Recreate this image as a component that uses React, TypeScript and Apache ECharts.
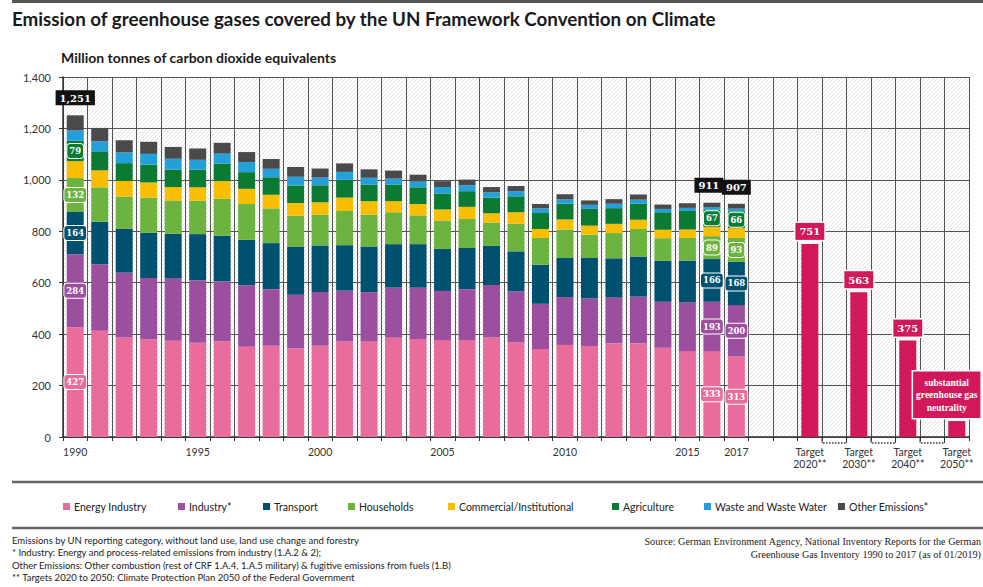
import React, { useEffect, useRef } from 'react';
import * as echarts from 'echarts';

const years = ['1990','1991','1992','1993','1994','1995','1996','1997','1998','1999','2000','2001','2002','2003','2004','2005','2006','2007','2008','2009','2010','2011','2012','2013','2014','2015','2016','2017'];

const targetCategories = ['Target\n2020**', 'Target\n2030**', 'Target\n2040**', 'Target\n2050**'];
const targetValues = [751, 563, 375, 62];
const targetLabels = ['751', '563', '375', 'substantial\ngreenhouse gas\nneutrality'];

const categories = [...years, '', '', targetCategories[0], '', targetCategories[1], '', targetCategories[2], '', targetCategories[3]];
const shownAxisLabels = ['1990', '1995', '2000', '2005', '2010', '2015', '2017', ...targetCategories];

const energy = [427, 413, 387, 380, 374, 367, 372, 351, 355, 345, 355, 371, 371, 386, 381, 377, 377, 387, 368, 342, 358, 354, 364, 364, 347, 334, 333, 313];
const industry = [284, 259, 252, 238, 243, 243, 233, 239, 220, 208, 209, 198, 192, 195, 200, 191, 198, 204, 198, 176, 186, 185, 178, 182, 179, 189, 193, 200];
const transport = [164, 165, 170, 176, 173, 179, 178, 177, 179, 186, 181, 177, 178, 169, 169, 163, 160, 152, 156, 152, 152, 157, 153, 156, 159, 163, 166, 168];
const households = [132, 134, 126, 137, 130, 130, 144, 139, 135, 122, 120, 133, 124, 124, 112, 111, 113, 91, 108, 104, 111, 91, 98, 107, 88, 88, 89, 93];
const commercial = [66, 66, 61, 59, 52, 52, 68, 59, 53, 49, 48, 52, 52, 43, 44, 43, 47, 36, 44, 35, 39, 35, 36, 36, 33, 33, 36, 38];
const agriculture = [79, 74, 69, 69, 68, 69, 68, 65, 68, 68, 66, 69, 65, 65, 65, 62, 61, 61, 62, 62, 61, 65, 61, 62, 68, 72, 67, 66];
const waste = [40, 39, 42, 42, 42, 38, 39, 39, 33, 34, 30, 31, 26, 23, 22, 25, 23, 21, 20, 18, 17, 16, 17, 16, 13, 12, 10, 10];
const other = [59, 52, 47, 47, 46, 44, 42, 39, 38, 38, 35, 33, 33, 31, 27, 23, 22, 20, 20, 17, 20, 17, 18, 20, 17, 18, 17, 19];

const seriesNames = ['Energy Industry', 'Industry*', 'Transport', 'Households', 'Commercial/Institutional', 'Agriculture', 'Waste and Waste Water', 'Other Emissions*'];
const seriesValues = [energy, industry, transport, households, commercial, agriculture, waste, other];
const seriesColors = ['#E96C9D', '#9C4F9E', '#00506F', '#6CB33F', '#F9BE00', '#0B7A33', '#23A0D9', '#4A4A4C'];
const targetColor = '#D0185B';

const labeledYears = ['1990', '2016', '2017'];
const labeledSeries = ['Energy Industry', 'Industry*', 'Transport', 'Households', 'Agriculture'];

const yTicks = [0, 200, 400, 600, 800, 1000, 1200, 1400];

const footnotes = [
  'Emissions by UN reporting category, without land use, land use change and forestry',
  '* Industry: Energy and process-related emissions from industry (1.A.2 & 2);',
  'Other Emissions: Other combustion (rest of CRF 1.A.4, 1.A.5 military) & fugitive emissions from fuels (1.B)',
  '** Targets 2020 to 2050: Climate Protection Plan 2050 of the Federal Government',
];
const sourceLines = [
  'Source: German Environment Agency, National Inventory Reports for the German',
  'Greenhouse Gas Inventory 1990 to 2017 (as of 01/2019)',
];

const SANS = 'Lato, "Open Sans", sans-serif';
const SERIF = '"DejaVu Serif", "Liberation Serif", serif';
const SERIF_NARROW = '"Liberation Serif", serif';

const legendLeft = [63, 178, 263, 348, 448, 612, 704, 838];

const fmt = (v: number) => v.toLocaleString('en-US');

const hatch =
  'data:image/svg+xml;charset=utf-8,' +
  encodeURIComponent(
    "<svg xmlns='http://www.w3.org/2000/svg' width='4' height='4'><rect width='4' height='4' fill='#ffffff'/><path d='M-1,1 L1,-1 M0,4 L4,0 M3,5 L5,3' stroke='#d2d2d2' stroke-width='0.6'/></svg>"
  );

export default function App() {
  const ref = useRef<HTMLDivElement>(null);
  useEffect(() => {
    document.body.style.margin = '0';
    const chart = echarts.init(ref.current as HTMLDivElement, null, { renderer: 'svg' });
    const nYears = years.length;
    const totals = years.map((_, i) => seriesValues.reduce((s, arr) => s + arr[i], 0));

    const segLabel = (color: string) => ({
      show: true,
      position: 'inside',
      formatter: '{c}',
      color: '#fff',
      fontFamily: SERIF,
      fontWeight: 'bold',
      fontSize: 8.5,
      backgroundColor: color,
      borderColor: '#fff',
      borderWidth: 1,
      borderRadius: 3,
      padding: [3, 2, 2, 2],
    });

    const barSeries = seriesNames.map((name, si) => ({
      name,
      type: 'bar',
      stack: 'total',
      barWidth: 17,
      itemStyle: { color: seriesColors[si] },
      data: categories.map((_, ci) => {
        if (ci >= nYears) return '-';
        const yr = years[ci];
        const item: any = { value: seriesValues[si][ci] };
        if (labeledYears.includes(yr) && labeledSeries.includes(name)) {
          item.label = segLabel(seriesColors[si]);
        }
        if (si === seriesNames.length - 1 && labeledYears.includes(yr)) {
          item.label = {
            show: true,
            position: 'top',
            distance: yr === '2017' ? 9 : 10,
            offset: yr === '2016' ? [-3, 0] : [0, 0],
            formatter: fmt(totals[ci]),
            color: '#fff',
            backgroundColor: '#111',
            fontFamily: SERIF,
            fontWeight: 'bold',
            fontSize: 10,
            padding: [3, 4, 2, 4],
          };
        }
        return item;
      }),
    }));

    const targetSeries = {
      name: 'Targets',
      type: 'bar',
      stack: 'total',
      barWidth: 17,
      itemStyle: { color: targetColor },
      data: categories.map((c, ci) => {
        const ti = ci >= nYears ? targetCategories.indexOf(c) : -1;
        if (ti < 0) return '-';
        const multi = targetLabels[ti].includes('\n');
        return {
          value: targetValues[ti],
          label: {
            show: true,
            position: 'top',
            distance: multi ? 3 : 4,
            offset: multi ? [-10, 0] : [0, 0],
            formatter: targetLabels[ti],
            color: '#fff',
            backgroundColor: targetColor,
            borderColor: '#fff',
            borderWidth: 1.5,
            fontFamily: multi ? SERIF_NARROW : SERIF,
            fontWeight: 'bold',
            fontSize: multi ? 9.5 : 10,
            lineHeight: multi ? 12.5 : 12,
            padding: multi ? [5, 3, 4, 3] : [3, 4, 2, 4],
          },
        };
      }),
    };

    const targetIdx = targetCategories.map((t) => categories.indexOf(t));
    const gapIdx = targetIdx.slice(1).map((t, i) => (t + targetIdx[i]) / 2);

    const gapSeries = {
      name: 'gaps',
      type: 'custom',
      silent: true,
      clip: false,
      z: 5,
      data: gapIdx.map((i) => [i, 0]),
      renderItem: (params: any, api: any) => {
        const p = api.coord([api.value(0), 0]);
        const w = api.size([1, 0])[0];
        const x1 = p[0] - w / 2;
        const x2 = p[0] + w / 2;
        const y = p[1];
        return {
          type: 'group',
          children: [
            { type: 'line', shape: { x1: x1 + 1, y1: y + 6, x2: x2 - 1, y2: y + 6 }, style: { stroke: '#333', lineWidth: 1.5, lineDash: [1.5, 1.5] } },
            { type: 'line', shape: { x1: x1, y1: y, x2: x1, y2: y + 6 }, style: { stroke: '#333', lineWidth: 1 } },
            { type: 'line', shape: { x1: x2, y1: y, x2: x2, y2: y + 6 }, style: { stroke: '#333', lineWidth: 1 } },
          ],
        };
      },
    };

    const textEl = (text: string, x: number, y: number, font: string, fill = '#222', align = 'left') => ({
      type: 'text',
      x,
      y,
      silent: true,
      style: { text, font, fill, align, verticalAlign: 'middle', textAlign: align, textVerticalAlign: 'middle' },
    });

    const graphics: any[] = [
      { type: 'line', shape: { x1: 12, y1: 1.5, x2: 983, y2: 1.5 }, style: { stroke: '#555', lineWidth: 3 } },
      textEl('Emission of greenhouse gases covered by the UN Framework Convention on Climate', 12, 18, `bold 18.8px ${SANS}`, '#1a1a1a'),
      textEl('Million tonnes of carbon dioxide equivalents', 61, 57, `bold 14px ${SANS}`, '#1a1a1a'),
      { type: 'line', shape: { x1: 12, y1: 482, x2: 983, y2: 482 }, style: { stroke: '#666', lineWidth: 2.5 } },
      { type: 'line', shape: { x1: 12, y1: 528, x2: 983, y2: 528 }, style: { stroke: '#666', lineWidth: 2.5 } },
      ...footnotes.map((t, i) => textEl(t, 12, 540 + i * 12.5, `9.5px ${SANS}`)),
      textEl(sourceLines[0], 981, 541, `10.2px ${SERIF_NARROW}`, '#222', 'right'),
      textEl(sourceLines[1], 981, 554, `10.2px ${SERIF_NARROW}`, '#222', 'right'),
    ];

    chart.setOption({
      animation: false,
      textStyle: { fontFamily: SANS },
      grid: {
        left: 63,
        right: 14,
        top: 77,
        bottom: 150,
        show: true,
        borderWidth: 0,
        backgroundColor: { image: hatch, repeat: 'repeat', imageWidth: 4, imageHeight: 4 },
      },
      legend: seriesNames.map((name, i) => ({
        data: [name],
        left: legendLeft[i],
        top: 501,
        padding: 0,
        itemWidth: 7,
        itemHeight: 7,
        icon: 'rect',
        selectedMode: false,
        textStyle: { fontSize: 10.5, color: '#222', fontFamily: SANS, padding: [0, 0, 0, -1] },
      })),
      xAxis: {
        type: 'category',
        data: categories,
        axisLine: { lineStyle: { color: '#333', width: 1.5 } },
        axisTick: { show: true, interval: 0, length: 4, lineStyle: { color: '#333' } },
        axisLabel: {
          interval: 0,
          margin: 9,
          fontSize: 10.5,
          color: '#333',
          lineHeight: 12,
          formatter: (v: string) => (shownAxisLabels.includes(v) ? v : ''),
        },
        splitLine: { show: true, interval: 0, lineStyle: { color: '#555', width: 1 } },
      },
      yAxis: {
        type: 'value',
        min: yTicks[0],
        max: yTicks[yTicks.length - 1],
        interval: yTicks[1] - yTicks[0],
        axisLine: { show: true, lineStyle: { color: '#333', width: 1.5 } },
        axisTick: { show: true, length: 4, lineStyle: { color: '#333' } },
        axisLabel: { margin: 12, fontSize: 11, color: '#333', formatter: (v: number) => fmt(v) },
        splitLine: { show: true, lineStyle: { color: '#555', width: 1 } },
      },
      series: [...barSeries, targetSeries, gapSeries],
      graphic: graphics,
    });
    return () => chart.dispose();
  }, []);
  return <div ref={ref} style={{ width: 983, height: 587 }} />;
}
